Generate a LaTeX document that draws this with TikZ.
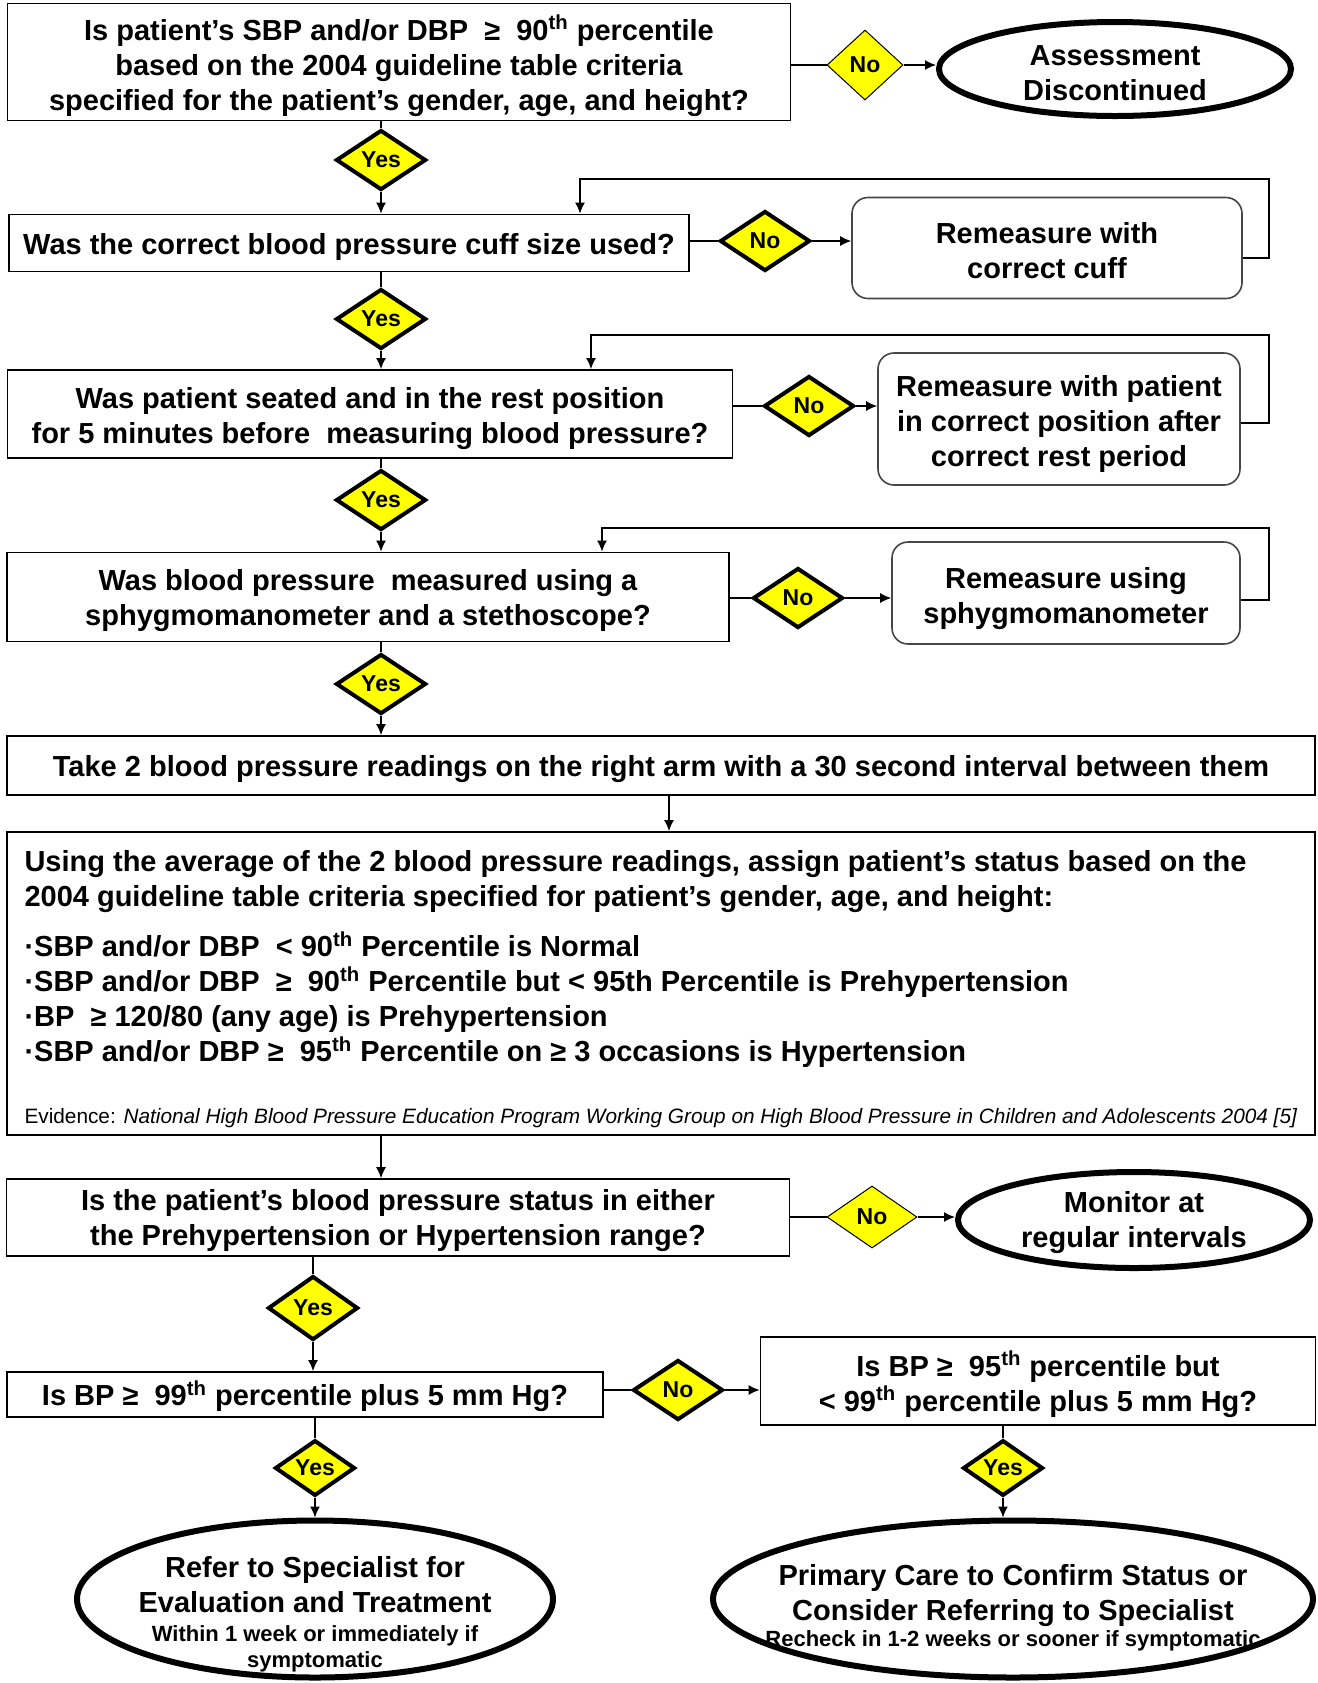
\documentclass[tikz,border=0pt]{standalone}
\usepackage{fontspec}
\setmainfont{Liberation Sans}
\usetikzlibrary{shapes.geometric, positioning, arrows.meta}
\definecolor{bpYellow}{RGB}{255,255,0}
\definecolor{bpGray}{RGB}{70,70,70}
\newcommand{\boxfont}{\fontsize{14.5}{17.5}\selectfont\bfseries}
\newcommand{\tagfont}{\fontsize{11.5}{13}\selectfont\bfseries}
\newcommand{\notefont}{\fontsize{11}{13}\selectfont\bfseries}
\newcommand{\evfont}{\fontsize{10.4}{12}\selectfont\mdseries}
% strut that pushes the first line down a little
\newcommand{\topstrut}[1][14.5pt]{\rule{0pt}{#1}}

\begin{document}
\begin{tikzpicture}[x=0.5pt, y=-0.5pt,
  qbox/.style={draw, line width=0.9pt, fill=white, align=center, font=\boxfont, inner sep=2pt},
  redo/.style={draw=bpGray, line width=0.8pt, rounded corners=8pt, align=center, font=\boxfont},
  finish/.style={ellipse, draw, line width=3pt, align=center, font=\boxfont, inner xsep=-18pt, inner ysep=-10pt},
  tagyes/.style={diamond, draw, fill=bpYellow, line width=2pt, inner sep=0pt, font=\tagfont, minimum width=45pt, minimum height=30pt},
  tagthin/.style={tagyes, line width=0.5pt},
  arrow/.style={-{Latex[length=5.5pt, width=5pt]}, line width=0.7pt},
  link/.style={line width=0.7pt}
]
  \useasboundingbox (0,0) rectangle (1318,1683);
  \clip (0,0) rectangle (1318,1683);

  % first check
  \node[qbox, minimum width=391.5pt, minimum height=57pt] (q1) at (399,62) {\topstrut[16.5pt]Is patient’s SBP and/or DBP\ \ ≥\ \ 90\textsuperscript{th} percentile\\based on the 2004 guideline table criteria\\specified for the patient’s gender, age, and height?};
  \node[tagthin, minimum width=38pt, minimum height=35pt] (no1) at (865,65) {No};
  \node[finish, minimum width=176pt, minimum height=47pt] (stop1) at (1115,69) {\topstrut Assessment\\Discontinued};
  \node[tagyes] (yes1) at (381,160) {Yes};

  % cuff size
  \node[qbox, minimum width=340pt, minimum height=28.5pt] (q2) at (349,243) {\topstrut Was the correct blood pressure cuff size used?};
  \node[tagyes] (no2) at (765,241) {No};
  \node[redo, minimum width=195pt, minimum height=50.5pt] (redo2) at (1047,248) {\topstrut[13pt]Remeasure with\\correct cuff};
  \coordinate (loop2) at (1269,179);
  \node[tagyes] (yes2) at (381,319) {Yes};

  % rest position
  \node[qbox, minimum width=362.5pt, minimum height=44pt] (q3) at (370,414) {\topstrut[15.4pt]Was patient seated and in the rest position\\for 5 minutes before\ \ measuring blood pressure?};
  \node[tagyes] (no3) at (809,406) {No};
  \node[redo, minimum width=181pt, minimum height=66pt] (redo3) at (1059,419) {\topstrut[15pt]Remeasure with patient\\in correct position after\\correct rest period};
  \coordinate (loop3) at (1269,335);
  \node[tagyes] (yes3) at (381,500) {Yes};

  % instrument
  \node[qbox, minimum width=361pt, minimum height=44.5pt] (q4) at (368,597) {\topstrut Was blood pressure\ \ measured using a\\sphygmomanometer and a stethoscope?};
  \node[tagyes] (no4) at (798,598) {No};
  \node[redo, minimum width=174pt, minimum height=51pt] (redo4) at (1066,593) {\topstrut[16pt]Remeasure using\\sphygmomanometer};
  \coordinate (loop4) at (1269,528);
  \node[tagyes] (yes4) at (381,684) {Yes};

  % readings and status
  \node[qbox, minimum width=654pt, minimum height=29.5pt] (take) at (661,765.5) {\topstrut Take 2 blood pressure readings on the right arm with a 30 second interval between them};
  \node[qbox, align=left, minimum width=654pt, minimum height=151.5pt] (assign) at (661,983.5) {\topstrut[16.3pt]Using the average of the 2 blood pressure readings, assign patient’s status based on the\\
    2004 guideline table criteria specified for patient’s gender, age, and height:\\[7.5pt]
    ·SBP and/or DBP\ \ < 90\textsuperscript{th} Percentile is Normal\\
    ·SBP and/or DBP\ \ ≥\ \ 90\textsuperscript{th} Percentile but < 95th Percentile is Prehypertension\\
    ·BP\ \ ≥ 120/80 (any age) is Prehypertension\\
    ·SBP and/or DBP ≥\ \ 95\textsuperscript{th} Percentile on ≥ 3 occasions is Hypertension\\[13.2pt]
    {\evfont Evidence: \textit{National High Blood Pressure Education Program Working Group on High Blood Pressure in Children and Adolescents 2004 [5]}}};

  % status range
  \node[qbox, minimum width=391.5pt, minimum height=36.5pt] (q5) at (398,1217.5) {\topstrut[13.8pt]Is the patient’s blood pressure status in either\\the Prehypertension or Hypertension range?};
  \node[tagthin, minimum width=45pt, minimum height=31pt] (no5) at (872,1217) {No};
  \node[finish, minimum width=176pt, minimum height=48pt] (monitor) at (1134,1220) {\topstrut[13pt]Monitor at\\regular intervals};
  \node[tagyes, minimum height=32pt] (yes5) at (313,1308) {Yes};

  % severity
  \node[qbox, minimum width=298pt, minimum height=22.5pt] (q6) at (305,1394.5) {\topstrut Is BP ≥\ \ 99\textsuperscript{th} percentile plus 5 mm Hg?};
  \node[tagyes] (no6) at (678,1390) {No};
  \node[qbox, minimum width=277.5pt, minimum height=44pt] (q7) at (1038,1381) {\topstrut[16pt]Is BP ≥\ \ 95\textsuperscript{th} percentile but\\< 99\textsuperscript{th} percentile plus 5 mm Hg?};
  \node[tagyes, minimum width=40pt, minimum height=27pt] (yes6) at (315,1468) {Yes};
  \node[tagyes, minimum width=40pt, minimum height=27pt] (yes7) at (1003,1468) {Yes};
  \node[finish, minimum width=238pt, minimum height=78.5pt] (refer) at (315,1599) {\topstrut[25.5pt]Refer to Specialist for\\Evaluation and Treatment\\[-3pt]{\notefont Within 1 week or immediately if}\\[-4.5pt]{\notefont symptomatic}};
  \node[finish, minimum width=300pt, minimum height=78.5pt] (primary) at (1013,1599) {\topstrut[19pt]Primary Care to Confirm Status or\\Consider Referring to Specialist\\[-4.5pt]{\notefont Recheck in 1-2 weeks or sooner if symptomatic}};

  % connectors
  \draw[link] (q1.east |- no1) -- (no1);
  \draw[arrow] (no1) -- (no1 -| stop1.west);
  \draw[link] (yes1 |- q1.south) -- (yes1);
  \draw[arrow] (yes1) -- (yes1 |- q2.north);
  \draw[link] (q2.east |- no2) -- (no2);
  \draw[arrow] (no2) -- (no2 -| redo2.west);
  \draw[arrow] ([yshift=-5pt]redo2.east) -| (loop2) -| ([xshift=115.5pt]q2.north);
  \draw[link] (yes2 |- q2.south) -- (yes2);
  \draw[arrow] (yes2) -- (yes2 |- q3.north);
  \draw[link] (q3.east |- no3) -- (no3);
  \draw[arrow] (no3) -- (no3 -| redo3.west);
  \draw[arrow] ([yshift=-2pt]redo3.east) -| (loop3) -| ([xshift=110.5pt]q3.north);
  \draw[link] (yes3 |- q3.south) -- (yes3);
  \draw[arrow] (yes3) -- (yes3 |- q4.north);
  \draw[link] (q4.east |- no4) -- (no4);
  \draw[arrow] (no4) -- (no4 -| redo4.west);
  \draw[arrow] ([yshift=-3.5pt]redo4.east) -| (loop4) -| ([xshift=117pt]q4.north);
  \draw[link] (yes4 |- q4.south) -- (yes4);
  \draw[arrow] (yes4) -- (yes4 |- take.north);
  \draw[arrow] ([xshift=4pt]take.south) -- ([xshift=4pt]assign.north);
  \draw[arrow] ([xshift=-8.5pt]q5.north |- assign.south) -- ([xshift=-8.5pt]q5.north);
  \draw[link] (q5.east |- no5) -- (no5);
  \draw[arrow] (no5) -- (no5 -| monitor.west);
  \draw[link] (yes5 |- q5.south) -- (yes5);
  \draw[arrow] (yes5) -- (yes5 |- q6.north);
  \draw[link] (q6.east |- no6) -- (no6);
  \draw[arrow] (no6) -- (no6 -| q7.west);
  \draw[link] (yes6 |- q6.south) -- (yes6);
  \draw[arrow] (yes6) -- (refer);
  \draw[link] (yes7 |- q7.south) -- (yes7);
  \draw[arrow] (yes7) -- (yes7 |- primary.north);
\end{tikzpicture}
\end{document}
